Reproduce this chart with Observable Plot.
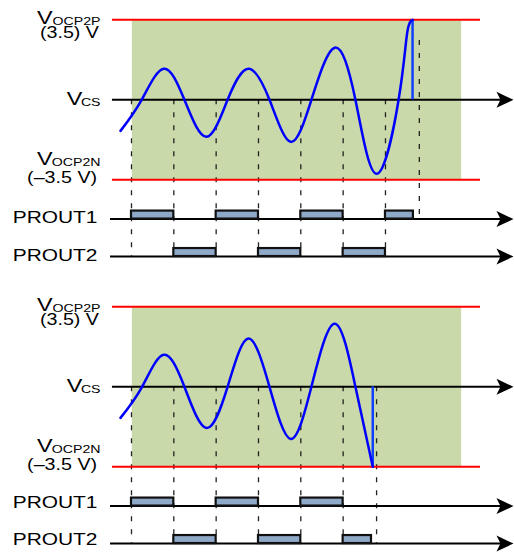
<!DOCTYPE html>
<html><head><meta charset="utf-8">
<script src="https://cdn.jsdelivr.net/npm/d3@7"></script>
<script src="https://cdn.jsdelivr.net/npm/@observablehq/plot@0.6"></script>
<style>
body{margin:0;background:#fff;}
#chart{width:514px;}
#chart svg{display:block;}
</style></head><body><div id="chart"></div>
<script>
// ---- data (time in switching half-periods, voltage in volts) ----
const limitV = [3.5, -3.5];
const rowLevels = [-5.22, -6.86];          // PROUT1, PROUT2 baselines
const rowNames = ["PROUT1", "PROUT2"];
const pulseH = 0.35;

const topWaveT = [-0.26, 0.24, 0.76, 1.25, 1.77, 2.27, 2.76, 3.26, 3.76, 4.25, 4.80, 5.29, 5.79, 6.31, 6.51, 6.64];
const topWaveV = [-1.36, 0, 1.36, 0, -1.62, 0, 1.36, 0, -1.84, 0, 2.28, 0, -3.24, 0, 2.89, 3.5];
const topTrip = 6.64;
const topP1Start = [0, 2, 4, 6], topP1End = [1, 3, 5, 6.66];
const topP2Start = [1, 3, 5],    topP2End = [2, 4, 6];
const topEdges = [0, 1, 2, 3, 4, 5, 6];
const topExtraEdge = 6.8, topExtraFrom = 2.6, topExtraTo = -5.22;

const botWaveT = [-0.26, 0.25, 0.76, 1.25, 1.77, 2.27, 2.76, 3.26, 3.76, 4.25, 4.80, 5.29, 5.70];
const botWaveV = [-1.36, 0, 1.40, 0, -1.80, 0, 2.11, 0, -2.28, 0, 2.76, 0, -3.5];
const botTrip = 5.70;
const botP1Start = [0, 2, 4], botP1End = [1, 3, 5];
const botP2Start = [1, 3, 5], botP2End = [2, 4, 5.67];
const botEdges = [0, 1, 2, 3, 4, 5];
const botExtraEdge = 5.79, botExtraFrom = 0, botExtraTo = -6.86;

// label baselines (volts): VOCP2P, (3.5) V, VCS, VOCP2N, (–3.5 V), PROUT1, PROUT2
const topLabelV = [3.317, 2.726, -0.206, -2.875, -3.62, -5.39, -7.05];
const botLabelV = [3.317, 2.726, -0.206, -2.875, -3.62, -5.30, -6.92];

const windowT = [0.02, 7.80];
const limitLineT = [-0.45, 8.245];
const axisStartT = -0.45, rowStartT = -0.496, arrowTipT = 9.024;

// ---- layout helpers ----
const X_DOMAIN = [-3.0947, 9.0482];
const Y_DOMAIN = [-7.252, 4.346];
const labelEndT = -0.732, vEndT = -1.866, csVEndT = -1.16;
const STRETCH = 1.23;
const FONT = "Liberation Sans, Arial, Helvetica, sans-serif";

const arrowHead = {draw(ctx) { ctx.moveTo(0, 0); ctx.lineTo(-17, -8); ctx.lineTo(-13, 0); ctx.lineTo(-17, 8); ctx.closePath(); }};

function panel(p, height, marginBottom) {
  const wave = p.waveT.map((t, i) => ({t, v: p.waveV[i]}));
  const pulses = [
    ...p.p1s.map((s, i) => ({s, e: p.p1e[i], lv: rowLevels[0]})),
    ...p.p2s.map((s, i) => ({s, e: p.p2e[i], lv: rowLevels[1]}))
  ];
  const L = p.labelV;
  const txt = {lineAnchor: "bottom", textAnchor: "end", fill: "black", fontFamily: FONT};
  const svg = Plot.plot({
    width: 514, height, marginTop: 0, marginBottom, marginLeft: 0, marginRight: 0,
    x: {domain: X_DOMAIN, axis: null},
    y: {domain: Y_DOMAIN, axis: null},
    style: {fontFamily: FONT, background: "white", overflow: "visible"},
    marks: [
      Plot.rect([0], {x1: windowT[0], x2: windowT[1], y1: limitV[1], y2: limitV[0], fill: "#cad9aa"}),
      Plot.ruleX(p.edges, {y1: 0, y2: rowLevels[1], stroke: "#222", strokeWidth: 1.3, strokeDasharray: "5,8"}),
      Plot.ruleX([p.extraEdge], {y1: p.extraFrom, y2: p.extraTo, stroke: "#222", strokeWidth: 1.3, strokeDasharray: "5,8"}),
      Plot.ruleY(limitV, {x1: limitLineT[0], x2: limitLineT[1], stroke: "#ff0000", strokeWidth: 2}),
      Plot.ruleY([0], {x1: axisStartT, x2: arrowTipT - 0.2, stroke: "black", strokeWidth: 2}),
      Plot.ruleY(rowLevels, {x1: rowStartT, x2: arrowTipT - 0.2, stroke: "black", strokeWidth: 2}),
      Plot.dot([0, ...rowLevels], {x: () => arrowTipT, y: d => d, symbol: arrowHead, fill: "black", stroke: "none"}),
      Plot.rect(pulses, {x1: "s", x2: "e", y1: "lv", y2: d => d.lv + pulseH, fill: "#8fa9c9", stroke: "#111", strokeWidth: 2.2}),
      Plot.ruleX([p.trip], {y1: 0, y2: p.tripV, stroke: "#1040ff", strokeWidth: 2.5}),
      Plot.line(wave, {x: "t", y: "v", curve: "natural", stroke: "#0000ff", strokeWidth: 2.5}),
      // labels
      Plot.text(["V"], {...txt, x: vEndT, y: L[0], fontSize: 19}),
      Plot.text(["OCP2P"], {...txt, x: labelEndT, y: L[0] - 0.044, fontSize: 11.5}),
      Plot.text(["(3.5) V"], {...txt, x: -0.768, y: L[1], fontSize: 16}),
      Plot.text(["V"], {...txt, x: csVEndT, y: L[2], fontSize: 19}),
      Plot.text(["CS"], {...txt, x: labelEndT, y: L[2] - 0.044, fontSize: 11.5}),
      Plot.text(["V"], {...txt, x: vEndT, y: L[3], fontSize: 19}),
      Plot.text(["OCP2N"], {...txt, x: labelEndT, y: L[3] - 0.044, fontSize: 11.5}),
      Plot.text(["(–3.5 V)"], {...txt, x: -0.813, y: L[4], fontSize: 16}),
      Plot.text([rowNames[0]], {...txt, x: -0.803, y: L[5], fontSize: 17}),
      Plot.text([rowNames[1]], {...txt, x: -0.803, y: L[6], fontSize: 17})
    ]
  });
  svg.querySelectorAll("text").forEach(t => {
    t.setAttribute("transform", (t.getAttribute("transform") || "") + ` scale(${STRETCH},1)`);
  });
  return svg;
}

const chart = document.getElementById("chart");
chart.append(panel({waveT: topWaveT, waveV: topWaveV, trip: topTrip, tripV: limitV[0],
  p1s: topP1Start, p1e: topP1End, p2s: topP2Start, p2e: topP2End, edges: topEdges,
  extraEdge: topExtraEdge, extraFrom: topExtraFrom, extraTo: topExtraTo, labelV: topLabelV}, 287, 22));
chart.append(panel({waveT: botWaveT, waveV: botWaveV, trip: botTrip, tripV: limitV[1],
  p1s: botP1Start, p1e: botP1End, p2s: botP2Start, p2e: botP2End, edges: botEdges,
  extraEdge: botExtraEdge, extraFrom: botExtraFrom, extraTo: botExtraTo, labelV: botLabelV}, 265, 0));
</script></body></html>
